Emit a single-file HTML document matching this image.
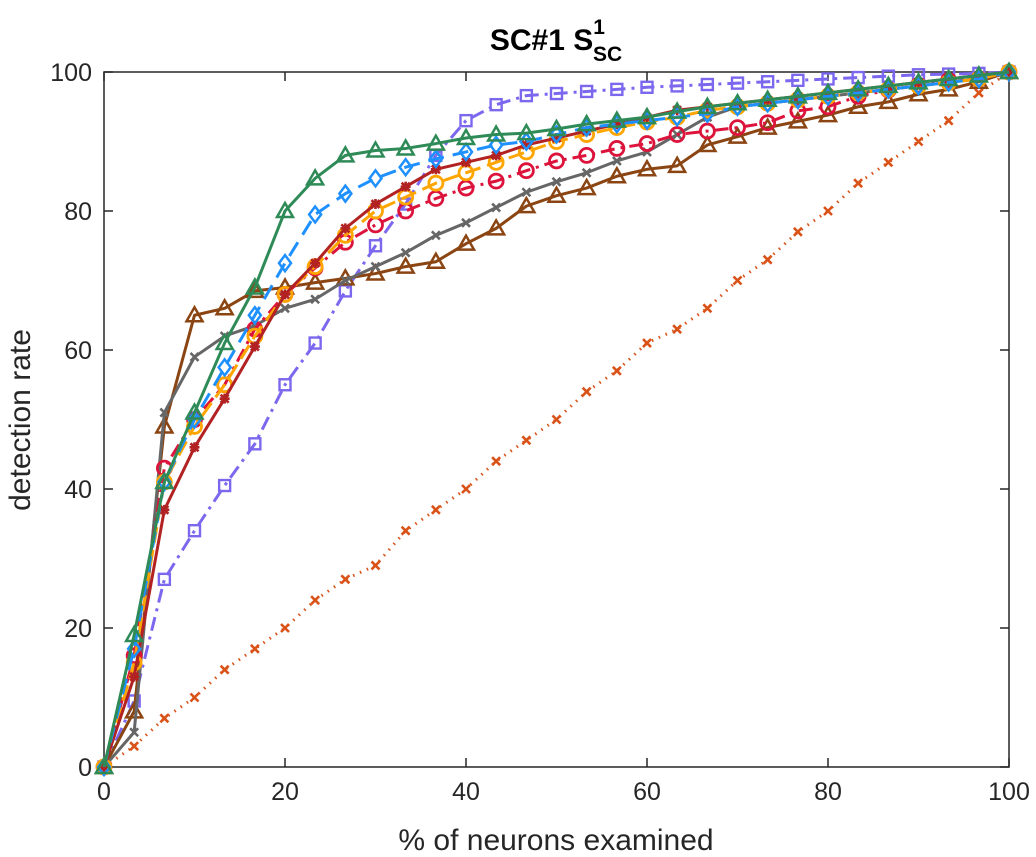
<!DOCTYPE html>
<html><head><meta charset="utf-8"><style>
body{margin:0;background:#fff;}
svg{display:block;font-family:"Liberation Sans",Arial,sans-serif;}
</style></head><body>
<svg id="chart" width="1036" height="857">
<rect width="1036" height="857" fill="#fff"/>
<g id="axes"></g>
<g id="series"></g>
<text x="556" y="50" text-anchor="middle" font-size="30" font-weight="bold">SC#1 S<tspan font-size="21" dy="-16">1</tspan><tspan font-size="21" dx="-12" dy="27">SC</tspan></text>
<text x="556" y="850" text-anchor="middle" font-size="30" fill="#262626">% of neurons examined</text>
<text transform="translate(30,420) rotate(-90)" text-anchor="middle" font-size="30" fill="#262626">detection rate</text>
</svg>
<script>
const xTicks=[0,20,40,60,80,100];
const yTicks=[0,20,40,60,80,100];
const xs=[0,3.33,6.67,10,13.33,16.67,20,23.33,26.67,30,33.33,36.67,40,43.33,46.67,50,53.33,56.67,60,63.33,66.67,70,73.33,76.67,80,83.33,86.67,90,93.33,96.67,100];
const greenTri=[0,19,41,51,61,69,80,84.7,88,88.7,89,89.7,90.5,91,91.2,91.8,92.5,93,93.5,94.3,95,95.5,96,96.5,97,97.5,98,98.5,99,99.5,100];
const blueDiamond=[0,17,41,50,57.5,65,72.5,79.5,82.5,84.7,86.3,87.5,88.5,89.5,90,91,92,92.5,93,93.5,94,95,95.5,96,96.5,97,97.5,98,98.5,99,100];
const darkRedStar=[0,13,37,46,53,60.5,68,72.5,77.5,81,83.5,86,87,88,89.5,90.5,91.5,92.5,93.5,94.5,95,95.5,96,96.5,97,97.5,98,98.5,99,99.5,100];
const orangeCircle=[0,15,41,49,55,62,68,72,76.5,80,82,84,85.5,87,88.5,90,91,92,92.8,93.5,94.5,95,95.5,96,96.5,97,97.5,98,98.5,99,100];
const crimsonCircle=[0,16,43,50,55,63,68,71.8,75.5,78,80,81.8,83.3,84.3,85.8,87.2,88,89,89.7,91,91.5,92,92.7,94.4,95,96.5,97.4,98.1,98.8,99,100];
const grayCross=[0,5,51,59,62,63.5,66,67.3,70,72,74,76.5,78.3,80.5,82.7,84.2,85.5,87.2,88.5,91,93.5,95,95.5,96,96.5,97,97.5,98,98.5,99,100];
const brownTri=[0,8,49,65,66,68.5,69,69.7,70.3,71,72,72.7,75.3,77.5,80.7,82.2,83.3,85,86,86.5,89.5,90.7,92,92.9,93.8,95,95.7,96.8,97.5,98.6,100];
const purpleSquare=[0,9.5,27,34,40.5,46.5,55,61,68.5,75,81,88,93,95.3,96.6,96.9,97.2,97.5,97.8,98,98.2,98.4,98.6,98.8,99,99.2,99.4,99.6,99.7,99.8,100];
const randomX=[0,3,7,10,14,17,20,24,27,29,34,37,40,44,47,50,54,57,61,63,66,70,73,77,80,84,87,90,93,97,100];

const L=104,R=1009,T=72,B=767;
const sx=v=>L+(R-L)*v/100, sy=v=>B-(B-T)*v/100;
const NS='http://www.w3.org/2000/svg';
function mk(tag,attrs,parent){const e=document.createElementNS(NS,tag);for(const k in attrs)e.setAttribute(k,attrs[k]);parent.appendChild(e);return e;}
const ax=document.getElementById('axes');
const box=mk('rect',{x:L,y:T,width:R-L,height:B-T,fill:'none',stroke:'#262626','stroke-width':1.5},ax);


xTicks.forEach(t=>{
  mk('line',{x1:sx(t),x2:sx(t),y1:B,y2:B-9,stroke:'#262626','stroke-width':1.5},ax);
  mk('line',{x1:sx(t),x2:sx(t),y1:T,y2:T+9,stroke:'#262626','stroke-width':1.5},ax);
  const tx=mk('text',{x:sx(t),y:B+33,'text-anchor':'middle','font-size':25,fill:'#262626'},ax);tx.textContent=t;
  
  
});
yTicks.forEach(t=>{
  mk('line',{x1:L,x2:L+9,y1:sy(t),y2:sy(t),stroke:'#262626','stroke-width':1.5},ax);
  mk('line',{x1:R,x2:R-9,y1:sy(t),y2:sy(t),stroke:'#262626','stroke-width':1.5},ax);
  const tx=mk('text',{x:L-12,y:sy(t)+9,'text-anchor':'end','font-size':25,fill:'#262626'},ax);tx.textContent=t;
  
  
});
const sg=document.getElementById('series');
function marker(g,type,x,y,c){
  const s=7;
  if(type==='tri') mk('polygon',{points:`${x},${y-s-1} ${x-s-1},${y+s-1} ${x+s+1},${y+s-1}`,fill:'none',stroke:c,'stroke-width':2.5},g);
  else if(type==='diamond') mk('polygon',{points:`${x},${y-s-1} ${x+s-1},${y} ${x},${y+s+1} ${x-s+1},${y}`,fill:'none',stroke:c,'stroke-width':2.5},g);
  else if(type==='circle') mk('circle',{cx:x,cy:y,r:s,fill:'none',stroke:c,'stroke-width':2.8},g);
  else if(type==='square') mk('rect',{x:x-5.5,y:y-5.5,width:11,height:11,fill:'none',stroke:c,'stroke-width':2.4},g);
  else if(type==='x'){mk('path',{d:`M${x-4},${y-4}L${x+4},${y+4}M${x-4},${y+4}L${x+4},${y-4}`,stroke:c,'stroke-width':2.6},g);}
  else if(type==='star'){mk('path',{d:`M${x-5},${y}L${x+5},${y}M${x},${y-5}L${x},${y+5}M${x-4},${y-4}L${x+4},${y+4}M${x-4},${y+4}L${x+4},${y-4}`,stroke:c,'stroke-width':2.6},g);}
}
const defs=[
 ['random-series',randomX,'#D95319','1.5 6','x'],
 ['purple-square-series',purpleSquare,'#7B68EE','14 6 3 6','square'],
 ['brown-triangle-series',brownTri,'#8B4513','','tri'],
 ['gray-cross-series',grayCross,'#666666','','x'],
 ['crimson-circle-series',crimsonCircle,'#DC143C','14 6 3 6','circle'],
 ['orange-circle-series',orangeCircle,'#FFA500','16 7','circle'],
 ['dark-red-star-series',darkRedStar,'#B22222','','star'],
 ['blue-diamond-series',blueDiamond,'#1E90FF','16 9','diamond'],
 ['green-triangle-series',greenTri,'#2E8B57','','tri'],
];
defs.forEach(([name,vals,c,dash,m])=>{
  const g=mk('g',{},sg);
  
  
  const pts=vals.map((v,i)=>sx(xs[i])+','+sy(v)).join(' ');
  const a={points:pts,fill:'none',stroke:c,'stroke-width':3,'stroke-linejoin':'round'};
  if(dash)a['stroke-dasharray']=dash;
  mk('polyline',a,g);
  vals.forEach((v,i)=>marker(g,m,sx(xs[i]),sy(v),c));
});
</script>
</body></html>
